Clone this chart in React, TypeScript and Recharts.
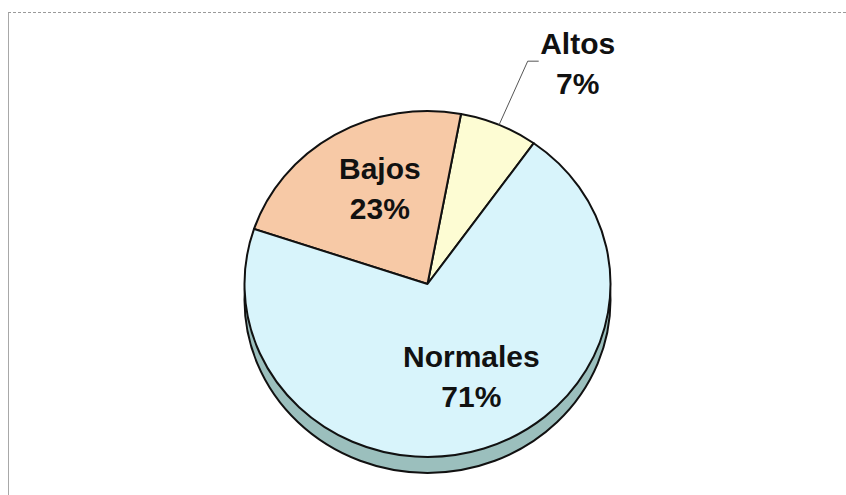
import { Pie, PieChart } from "recharts";

const CATEGORIES = ["Altos", "Bajos", "Normales"];
const PERCENTS = [7, 23, 71];

const COLORS = ["#fdfcd3", "#f7c9a6", "#d8f4fb"];
const SIDE = "#9bbfbd";

const W = 846;
const H = 495;
const CX = 422.5;
const CY = 279;
const R = 183;
const K = 0.945; // vertical squash (tilt)
const DEPTH = 16;
const FONT = "'Liberation Sans', Arial, Helvetica, sans-serif";

const RAD = Math.PI / 180;

function pt(cx: number, cy: number, r: number, a: number) {
  return [cx + r * Math.cos(a * RAD), cy - r * K * Math.sin(a * RAD)];
}

function EllipseSector(props: any) {
  const { cx, cy, outerRadius, startAngle, endAngle, fill } = props;
  const [x1, y1] = pt(cx, cy, outerRadius, startAngle);
  const [x2, y2] = pt(cx, cy, outerRadius, endAngle);
  const large = Math.abs(endAngle - startAngle) > 180 ? 1 : 0;
  const d = `M${cx},${cy} L${x1},${y1} A${outerRadius},${outerRadius * K} 0 ${large} 0 ${x2},${y2} Z`;
  return (
    <path d={d} fill={fill} stroke="#111" strokeWidth={2} strokeLinejoin="round" />
  );
}

function SideShape(props: any) {
  const { cx, cy, outerRadius } = props;
  return (
    <ellipse
      cx={cx}
      cy={cy}
      rx={outerRadius}
      ry={outerRadius * K}
      fill={SIDE}
      stroke="#111"
      strokeWidth={2}
    />
  );
}

// label placement: radius factor + small nudges
const LABEL_R = [1.4, 0.6, 0.6];
const LABEL_NUDGE = [
  [0, 0],
  [8, -6],
  [10, -6],
];

function renderLabel(props: any) {
  const { cx, cy, midAngle, outerRadius, index } = props;
  const name = CATEGORIES[index];
  const pct = `${PERCENTS[index]}%`;
  const txt = { fontFamily: FONT, fontWeight: 700, fontSize: 30, fill: "#111" };
  if (index === 0) {
    const [sx, sy] = pt(cx, cy, outerRadius, midAngle);
    const [ex, ey] = pt(cx, cy, outerRadius * LABEL_R[0], midAngle);
    const tx = ex + 50;
    return (
      <g>
        <polyline
          points={`${sx},${sy} ${ex},${ey} ${ex + 11},${ey}`}
          fill="none"
          stroke="#555"
          strokeWidth={1}
        />
        <text x={tx} y={ey - 7} textAnchor="middle" {...txt}>
          {name}
        </text>
        <text x={tx} y={ey + 33} textAnchor="middle" {...txt}>
          {pct}
        </text>
      </g>
    );
  }
  const [lx, ly] = pt(cx, cy, outerRadius * LABEL_R[index], midAngle);
  const x = lx + LABEL_NUDGE[index][0];
  const y = ly + LABEL_NUDGE[index][1];
  return (
    <g>
      <text x={x} y={y - 10} textAnchor="middle" {...txt}>
        {name}
      </text>
      <text x={x} y={y + 30} textAnchor="middle" {...txt}>
        {pct}
      </text>
    </g>
  );
}

export default function App() {
  const data = CATEGORIES.map((name, i) => ({
    name,
    value: PERCENTS[i],
    fill: COLORS[i],
  }));

  return (
    <div
      style={{
        position: "absolute",
        left: 0,
        top: 0,
        width: W,
        height: H,
        background: "#fff",
      }}
    >
      <div
        style={{
          position: "absolute",
          left: 8,
          top: 12,
          right: 0,
          bottom: 0,
          borderTop: "1px dashed #9a9a9a",
          borderLeft: "1px solid #a8a8a8",
        }}
      />
      <PieChart width={W} height={H} style={{ position: "absolute", left: 0, top: 0 }}>
        <Pie
          data={[{ name: "base", value: 1 }]}
          dataKey="value"
          cx={CX}
          cy={CY + DEPTH}
          outerRadius={R}
          startAngle={0}
          endAngle={360}
          stroke="none"
          shape={SideShape}
          isAnimationActive={false}
          label={false}
          labelLine={false}
        />
        <Pie
          data={data}
          dataKey="value"
          nameKey="name"
          cx={CX}
          cy={CY}
          outerRadius={R}
          startAngle={54.5}
          endAngle={414.5}
          shape={EllipseSector}
          isAnimationActive={false}
          label={renderLabel}
          labelLine={false}
        />
      </PieChart>
    </div>
  );
}
